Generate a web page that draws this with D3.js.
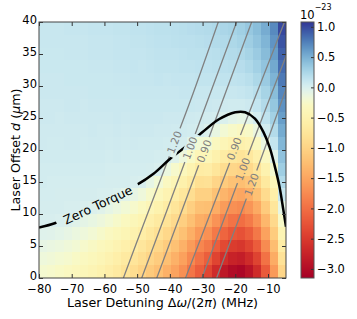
<!DOCTYPE html>
<html>
<head>
<meta charset="utf-8">
<script src="https://cdn.jsdelivr.net/npm/d3@7"></script>
<style>
  body { margin: 0; background: #fff; }
  svg text { font-family: "DejaVu Sans", sans-serif; fill: #000; }
  .tick line { stroke: #333; }
  .domain { display: none; }
</style>
</head>
<body>
<div id="chart"></div>
<script>
// column centres (MHz) and row centres (um, top row first)
const detuning = [-78.75, -76.25, -73.75, -71.25, -68.75, -66.25, -63.75, -61.25, -58.75, -56.25,
  -53.75, -51.25, -48.75, -46.25, -43.75, -41.25, -38.75, -36.25, -33.75, -31.25,
  -28.75, -26.25, -23.75, -21.25, -18.75, -16.25, -13.75, -11.25, -8.75, -6.25];
const offsets = [39, 37, 35, 33, 31, 29, 27, 25, 23, 21, 19, 17, 15, 13, 11, 9, 7, 5, 3, 1];

// torque, units of 1e-23, one row per offset
const torque = [
  [0.10,0.10,0.10,0.11,0.11,0.11,0.12,0.12,0.12,0.13,0.13,0.14,0.14,0.15,0.16,0.16,0.17,0.18,0.19,0.20,0.21,0.23,0.25,0.27,0.30,0.35,0.42,0.52,0.70,1.00],
  [0.10,0.10,0.10,0.10,0.10,0.10,0.11,0.11,0.11,0.12,0.12,0.13,0.13,0.14,0.15,0.15,0.16,0.17,0.17,0.18,0.19,0.21,0.22,0.24,0.27,0.31,0.38,0.47,0.65,0.95],
  [0.09,0.09,0.09,0.10,0.10,0.10,0.11,0.11,0.11,0.12,0.12,0.12,0.12,0.13,0.14,0.14,0.14,0.15,0.16,0.16,0.17,0.18,0.20,0.21,0.23,0.27,0.33,0.43,0.60,0.89],
  [0.09,0.09,0.09,0.09,0.09,0.09,0.10,0.10,0.10,0.11,0.11,0.12,0.11,0.12,0.13,0.13,0.13,0.14,0.14,0.15,0.15,0.16,0.17,0.18,0.19,0.23,0.29,0.38,0.54,0.84],
  [0.08,0.08,0.08,0.09,0.09,0.09,0.09,0.09,0.09,0.10,0.10,0.11,0.11,0.11,0.12,0.11,0.12,0.12,0.12,0.13,0.13,0.13,0.14,0.14,0.15,0.18,0.24,0.33,0.48,0.78],
  [0.08,0.08,0.08,0.08,0.08,0.08,0.09,0.09,0.09,0.09,0.09,0.10,0.10,0.10,0.10,0.10,0.10,0.11,0.11,0.10,0.10,0.10,0.10,0.10,0.11,0.13,0.18,0.27,0.42,0.72],
  [0.07,0.07,0.07,0.08,0.08,0.07,0.08,0.08,0.08,0.08,0.08,0.09,0.09,0.09,0.09,0.09,0.09,0.09,0.09,0.08,0.08,0.07,0.06,0.05,0.05,0.07,0.12,0.21,0.36,0.66],
  [0.07,0.07,0.06,0.07,0.07,0.07,0.07,0.07,0.07,0.08,0.07,0.08,0.08,0.08,0.08,0.07,0.07,0.07,0.06,0.05,0.04,0.03,-0.01,-0.06,-0.09,-0.06,0.03,0.14,0.29,0.60],
  [0.06,0.06,0.06,0.06,0.06,0.06,0.07,0.06,0.06,0.07,0.06,0.07,0.07,0.07,0.06,0.06,0.05,0.05,0.04,0.02,-0.03,-0.11,-0.20,-0.26,-0.30,-0.26,-0.14,0.04,0.21,0.53],
  [0.06,0.05,0.05,0.06,0.06,0.05,0.06,0.06,0.05,0.06,0.05,0.06,0.05,0.05,0.05,0.04,0.03,0.02,-0.04,-0.19,-0.21,-0.31,-0.41,-0.49,-0.52,-0.47,-0.33,-0.12,0.12,0.46],
  [0.05,0.05,0.05,0.05,0.05,0.05,0.05,0.05,0.04,0.05,0.04,0.04,0.04,0.04,0.03,0.02,-0.05,-0.15,-0.27,-0.41,-0.40,-0.52,-0.63,-0.72,-0.76,-0.70,-0.55,-0.30,-0.04,0.39],
  [0.04,0.04,0.04,0.04,0.04,0.04,0.04,0.04,0.03,0.03,0.03,0.03,0.03,0.02,0.00,-0.13,-0.24,-0.35,-0.48,-0.63,-0.60,-0.74,-0.87,-0.96,-1.00,-0.93,-0.76,-0.50,-0.22,0.31],
  [0.04,0.03,0.03,0.03,0.03,0.03,0.03,0.03,0.02,0.02,0.02,0.01,0.00,-0.09,-0.19,-0.30,-0.42,-0.53,-0.67,-0.83,-0.81,-0.97,-1.10,-1.20,-1.24,-1.16,-0.99,-0.69,-0.39,0.22],
  [0.03,0.03,0.02,0.02,0.02,0.02,0.02,0.01,0.01,-0.01,-0.06,-0.10,-0.16,-0.25,-0.35,-0.47,-0.59,-0.71,-0.86,-1.03,-1.03,-1.20,-1.34,-1.45,-1.49,-1.40,-1.22,-0.90,-0.57,0.10],
  [0.02,0.02,0.02,0.01,0.01,0.00,-0.02,-0.05,-0.09,-0.14,-0.19,-0.24,-0.31,-0.41,-0.51,-0.63,-0.75,-0.88,-1.05,-1.22,-1.24,-1.43,-1.59,-1.70,-1.75,-1.65,-1.45,-1.10,-0.74,-0.09],
  [0.01,0.01,0.00,-0.02,-0.05,-0.08,-0.11,-0.15,-0.20,-0.25,-0.31,-0.38,-0.46,-0.56,-0.66,-0.78,-0.91,-1.05,-1.23,-1.42,-1.47,-1.67,-1.84,-1.96,-2.01,-1.90,-1.68,-1.32,-0.92,-0.26],
  [-0.04,-0.05,-0.07,-0.10,-0.13,-0.16,-0.20,-0.25,-0.30,-0.36,-0.43,-0.50,-0.59,-0.70,-0.81,-0.94,-1.07,-1.22,-1.41,-1.61,-1.69,-1.91,-2.09,-2.22,-2.27,-2.15,-1.92,-1.53,-1.09,-0.44],
  [-0.10,-0.12,-0.14,-0.17,-0.20,-0.24,-0.28,-0.34,-0.40,-0.47,-0.55,-0.63,-0.73,-0.84,-0.95,-1.09,-1.22,-1.38,-1.59,-1.79,-1.92,-2.16,-2.35,-2.48,-2.53,-2.40,-2.17,-1.75,-1.26,-0.61],
  [-0.16,-0.18,-0.21,-0.23,-0.27,-0.31,-0.36,-0.42,-0.49,-0.57,-0.66,-0.75,-0.86,-0.98,-1.09,-1.23,-1.38,-1.54,-1.76,-1.98,-2.15,-2.40,-2.61,-2.75,-2.80,-2.66,-2.41,-1.97,-1.44,-0.79],
  [-0.22,-0.24,-0.27,-0.30,-0.34,-0.38,-0.44,-0.51,-0.58,-0.67,-0.77,-0.87,-0.99,-1.11,-1.23,-1.38,-1.52,-1.70,-1.94,-2.16,-2.38,-2.66,-2.87,-3.01,-3.07,-2.92,-2.65,-2.19,-1.61,-0.96]
];

// zero torque curve
const zeroTorque = [[-80, 7.9], [-75, 8.6], [-70, 9.8], [-65, 11.0], [-60, 12.2], [-55, 13.4], [-50, 14.6],
  [-45, 16.3], [-40, 18.6], [-35, 20.6], [-30, 22.8], [-25, 24.8], [-20, 25.9], [-17, 25.9], [-14, 24.9],
  [-11.5, 22.9], [-9.5, 20.4], [-8, 17.6], [-6.5, 14.3], [-5.3, 10.6], [-4.5, 8.0]];

// grey contour lines
const left120 = [[-54.2, 0], [-47.6, 9], [-40.9, 18], [-33.5, 28], [-25.2, 40]];
const left100 = [[-48.6, 0], [-35.5, 18], [-19.6, 40]];
const left090 = [[-44.0, 0], [-30.9, 18], [-15.0, 40]];
const right090 = [[-35.2, 0], [-21.7, 18], [-4.2, 41]];
const right100 = [[-30.2, 0], [-17.0, 18], [-3.5, 36]];
const right120 = [[-25.7, 0], [-14.5, 15.3], [-3.8, 30.5]];
const contourLines = [left120, left100, left090, right090, right100, right120];
const contourTexts = ['1.20', '1.00', '0.90', '0.90', '1.00', '1.20'];
const contourLabelAt = [[-38.6, 21.2], [-33.8, 20.3], [-29.5, 19.8], [-20.3, 20.2], [-17.7, 17.0], [-15.0, 14.6]];

const xTicks = [-80, -70, -60, -50, -40, -30, -20, -10];
const yTicks = [0, 5, 10, 15, 20, 25, 30, 35, 40];
const cbTicks = [1.0, 0.5, 0.0, -0.5, -1.0, -1.5, -2.0, -2.5, -3.0];

const W = 357, H = 319;
const plot = { left: 39, right: 286, top: 22, bottom: 278 };

const svg = d3.select('#chart').append('svg')
    .attr('width', W).attr('height', H);

const x = d3.scaleLinear().domain([-80, -4.5]).range([plot.left, plot.right]);
const y = d3.scaleLinear().domain([0, 40]).range([plot.bottom, plot.top]);
const colX = d3.scaleBand().domain(detuning).range([plot.left, plot.right]);
const rowY = d3.scaleBand().domain(offsets).range([plot.top, plot.bottom]);

const toT = d3.scaleLinear().domain([-3.15, -0.3, 1.08]).range([0, 0.5, 1]).clamp(true);
const color = v => d3.interpolateRdYlBu(toT(v));

const defs = svg.append('defs');
defs.append('clipPath').attr('id', 'plotClip')
  .append('rect')
    .attr('x', plot.left).attr('y', plot.top)
    .attr('width', plot.right - plot.left).attr('height', plot.bottom - plot.top);

// heatmap
const cells = [];
torque.forEach((row, i) => row.forEach((v, j) => cells.push({ d: detuning[j], o: offsets[i], v: v })));

svg.append('g')
    .attr('clip-path', 'url(#plotClip)')
    .attr('shape-rendering', 'crispEdges')
  .selectAll('rect')
  .data(cells)
  .join('rect')
    .attr('x', c => colX(c.d))
    .attr('y', c => rowY(c.o))
    .attr('width', colX.bandwidth() + 0.6)
    .attr('height', rowY.bandwidth() + 0.6)
    .attr('fill', c => color(c.v));

// label gaps in the lines
const angleOf = pts => {
  const a = pts[0], b = pts[pts.length - 1];
  return Math.atan2(y(b[1]) - y(a[1]), x(b[0]) - x(a[0])) * 180 / Math.PI;
};
const zeroLabelAt = [-62, 11.4];
const zeroAngle = angleOf([[-75, 8.6], [-50, 14.6]]);

const mask = defs.append('mask').attr('id', 'gapMask')
    .attr('maskUnits', 'userSpaceOnUse')
    .attr('x', 0).attr('y', 0).attr('width', W).attr('height', H);
mask.append('rect').attr('width', W).attr('height', H).attr('fill', '#fff');
contourLabelAt.forEach((p, i) => {
  mask.append('rect')
      .attr('x', -15).attr('y', -6).attr('width', 30).attr('height', 12)
      .attr('fill', '#000')
      .attr('transform', `translate(${x(p[0])},${y(p[1])}) rotate(${angleOf(contourLines[i])})`);
});
mask.append('rect')
    .attr('x', -45).attr('y', -8).attr('width', 90).attr('height', 16)
    .attr('fill', '#000')
    .attr('transform', `translate(${x(zeroLabelAt[0])},${y(zeroLabelAt[1])}) rotate(${zeroAngle})`);

const line = d3.line()
    .x(p => x(p[0]))
    .y(p => y(p[1]))
    .curve(d3.curveCatmullRom);

const lines = svg.append('g').attr('clip-path', 'url(#plotClip)')
  .append('g').attr('mask', 'url(#gapMask)');

lines.selectAll('path.contour')
  .data(contourLines)
  .join('path')
    .attr('class', 'contour')
    .attr('d', line)
    .attr('fill', 'none')
    .attr('stroke', '#808080')
    .attr('stroke-width', 1.3);

lines.append('path')
    .attr('d', line(zeroTorque))
    .attr('fill', 'none')
    .attr('stroke', '#000')
    .attr('stroke-width', 2.5);

// contour labels
svg.append('g').selectAll('text')
  .data(contourLabelAt)
  .join('text')
    .attr('transform', (p, i) => `translate(${x(p[0])},${y(p[1])}) rotate(${angleOf(contourLines[i])})`)
    .attr('text-anchor', 'middle')
    .attr('dy', '0.35em')
    .style('font-size', '10.5px')
    .style('fill', '#808080')
    .text((p, i) => contourTexts[i]);

svg.append('text')
    .attr('transform', `translate(${x(zeroLabelAt[0])},${y(zeroLabelAt[1])}) rotate(${zeroAngle})`)
    .attr('text-anchor', 'middle')
    .attr('dy', '0.35em')
    .style('font-size', '12.5px')
    .text('Zero Torque');

// axes, ticks pointing inward
const tickFont = '11.5px';
svg.append('g')
    .attr('transform', `translate(0,${plot.bottom})`)
    .call(d3.axisBottom(x).tickValues(xTicks).tickSizeInner(-4).tickSizeOuter(0).tickPadding(7))
    .selectAll('text').style('font-size', tickFont);
svg.append('g')
    .attr('transform', `translate(0,${plot.top})`)
    .call(d3.axisTop(x).tickValues(xTicks).tickSizeInner(-4).tickSizeOuter(0).tickFormat(''));
svg.append('g')
    .attr('transform', `translate(${plot.left},0)`)
    .call(d3.axisLeft(y).tickValues(yTicks).tickSizeInner(-4).tickSizeOuter(0).tickPadding(2))
    .selectAll('text').style('font-size', tickFont).attr('dy', '0.1em');
svg.append('g')
    .attr('transform', `translate(${plot.right},0)`)
    .call(d3.axisRight(y).tickValues(yTicks).tickSizeInner(-4).tickSizeOuter(0).tickFormat(''));

svg.append('rect')
    .attr('x', plot.left).attr('y', plot.top)
    .attr('width', plot.right - plot.left).attr('height', plot.bottom - plot.top)
    .attr('fill', 'none').attr('stroke', '#444').attr('stroke-width', 1);

// axis titles
const xTitle = svg.append('text')
    .attr('x', (plot.left + plot.right) / 2).attr('y', 307)
    .attr('text-anchor', 'middle')
    .style('font-size', '12.7px');
xTitle.append('tspan').text('Laser Detuning Δ');
xTitle.append('tspan').style('font-style', 'italic').text('ω');
xTitle.append('tspan').text('/(2');
xTitle.append('tspan').style('font-style', 'italic').text('π');
xTitle.append('tspan').text(') (MHz)');

const yTitle = svg.append('text')
    .attr('transform', `translate(20,${(plot.top + plot.bottom) / 2}) rotate(-90)`)
    .attr('text-anchor', 'middle')
    .style('font-size', '12.7px');
yTitle.append('tspan').text('Laser Offset ');
yTitle.append('tspan').style('font-style', 'italic').text('d');
yTitle.append('tspan').text(' (');
yTitle.append('tspan').style('font-style', 'italic').text('μ');
yTitle.append('tspan').text('m)');

// colorbar
const cbLeft = 301, cbRight = 314;
const cb = d3.scaleLinear().domain([-3.15, 1.08]).range([plot.bottom, plot.top]);
const strips = d3.range(plot.top, plot.bottom);
svg.append('g')
    .attr('shape-rendering', 'crispEdges')
  .selectAll('rect')
  .data(strips)
  .join('rect')
    .attr('x', cbLeft).attr('width', cbRight - cbLeft)
    .attr('y', s => s).attr('height', 1.1)
    .attr('fill', s => color(cb.invert(s + 0.5)));

svg.append('g')
    .attr('transform', `translate(${cbRight},0)`)
    .call(d3.axisRight(cb).tickValues(cbTicks).tickFormat(d3.format('.1f')).tickSizeInner(-3).tickSizeOuter(0).tickPadding(3))
    .selectAll('text').style('font-size', tickFont);

svg.append('rect')
    .attr('x', cbLeft).attr('y', plot.top)
    .attr('width', cbRight - cbLeft).attr('height', plot.bottom - plot.top)
    .attr('fill', 'none').attr('stroke', '#555').attr('stroke-width', 1);

const expo = svg.append('text').attr('x', 300).attr('y', 18.5).style('font-size', '11.5px');
expo.append('tspan').text('10');
expo.append('tspan').attr('dy', -9).style('font-size', '8px').text('−23');
</script>
</body>
</html>
